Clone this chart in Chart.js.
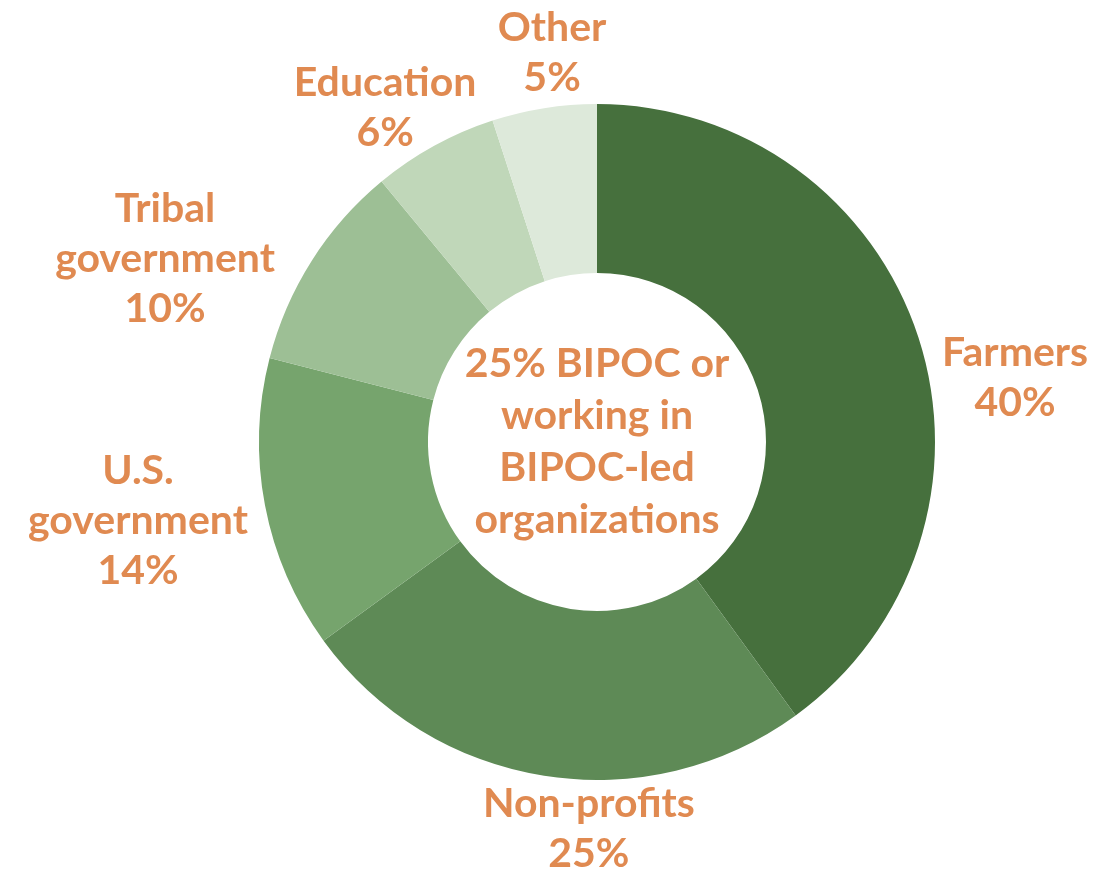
<!DOCTYPE html>
<html>
<head>
<meta charset="utf-8">
<script src="https://cdn.jsdelivr.net/npm/chart.js@4"></script>
<style>
  html, body { margin: 0; padding: 0; background: #fff; }
  #wrap { width: 1114px; height: 883px; }
</style>
</head>
<body>
<div id="wrap"><canvas id="chart" width="1114" height="883"></canvas></div>
<script>
  const categories = ["Farmers", "Non-profits", "U.S. government", "Tribal government", "Education", "Other"];
  const labelLines = [["Farmers"], ["Non-profits"], ["U.S.", "government"], ["Tribal", "government"], ["Education"], ["Other"]];
  const shares = [40, 25, 14, 10, 6, 5];
  const centerLines = ["25% BIPOC or", "working in", "BIPOC-led", "organizations"];

  const sliceColors = ["#46703d", "#5e8a56", "#76a46d", "#9dbf95", "#c0d7b9", "#dde9da"];
  const textColor = "#e08a51";
  const font = "bold 41px Lato";
  const lineH = 50;
  const centerLineH = 52;

  // where each label block sits, relative to the centre, in outer-radius units
  const labelSpots = [[1.237, -0.189], [-0.024, 1.145], [-1.358, 0.234], [-1.278, -0.541], [-0.627, -0.988], [-0.133, -1.151]];

  const labelPlugin = {
    id: "sliceLabels",
    afterDraw(chart) {
      const ctx = chart.ctx;
      const arcs = chart.getDatasetMeta(0).data;
      if (!arcs.length) return;
      const cx = arcs[0].x, cy = arcs[0].y, r = arcs[0].outerRadius;
      ctx.save();
      ctx.font = font;
      ctx.fillStyle = textColor;
      ctx.textAlign = "center";
      ctx.textBaseline = "middle";
      arcs.forEach((arc, i) => {
        const lines = labelLines[i].concat([shares[i] + "%"]);
        const bx = cx + labelSpots[i][0] * r;
        const by = cy + labelSpots[i][1] * r;
        const top = by - (lines.length - 1) * lineH / 2;
        lines.forEach((t, j) => ctx.fillText(t, bx, top + j * lineH));
      });
      const top = cy - (centerLines.length - 1) * centerLineH / 2;
      centerLines.forEach((t, j) => ctx.fillText(t, cx, top + j * centerLineH));
      ctx.restore();
    }
  };

  new Chart(document.getElementById("chart"), {
    type: "doughnut",
    data: {
      labels: categories,
      datasets: [{
        data: shares,
        backgroundColor: sliceColors,
        borderWidth: 0
      }]
    },
    options: {
      responsive: false,
      animation: false,
      cutout: "50%",
      layout: { padding: { left: 259, right: 179, top: 104, bottom: 103 } },
      plugins: {
        legend: { display: false },
        tooltip: { enabled: false }
      }
    },
    plugins: [labelPlugin]
  });
</script>
</body>
</html>
